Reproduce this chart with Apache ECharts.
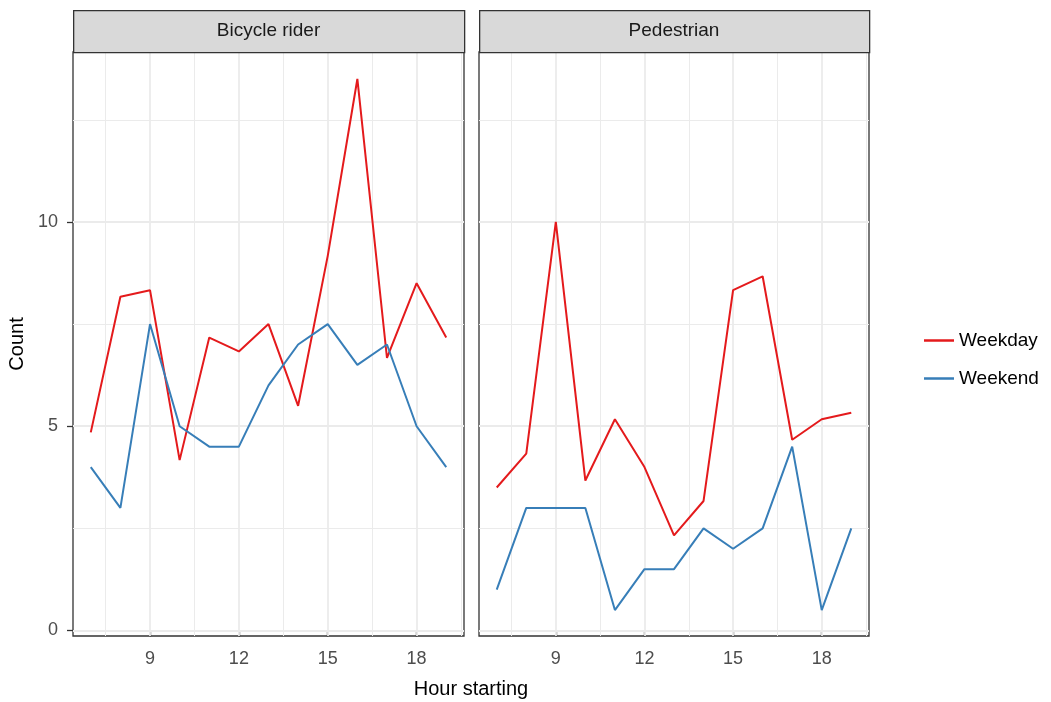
<!DOCTYPE html>
<html>
<head>
<meta charset="utf-8">
<script src="https://cdn.jsdelivr.net/npm/echarts@6/dist/echarts.min.js"></script>
<style>
html,body{margin:0;padding:0;background:#fff;}
#c{width:1051px;height:702px;}
</style>
</head>
<body>
<div id="c"></div>
<script>
// ---- data ----
const hours = [7, 8, 9, 10, 11, 12, 13, 14, 15, 16, 17, 18, 19];
const panels = ['Bicycle rider', 'Pedestrian'];
const bikeWeekday = [4.85, 8.17, 8.33, 4.17, 7.17, 6.83, 7.5, 5.5, 9.17, 13.5, 6.67, 8.5, 7.17];
const bikeWeekend = [4.0, 3.0, 7.5, 5.0, 4.5, 4.5, 6.0, 7.0, 7.5, 6.5, 7.0, 5.0, 4.0];
const pedWeekday = [3.5, 4.33, 10.0, 3.67, 5.17, 4.0, 2.33, 3.17, 8.33, 8.67, 4.67, 5.17, 5.33];
const pedWeekend = [1.0, 3.0, 3.0, 3.0, 0.5, 1.5, 1.5, 2.5, 2.0, 2.5, 4.5, 0.5, 2.5];
const xTicks = [9, 12, 15, 18];
const xMinor = [7.5, 10.5, 13.5, 16.5, 19.5];
const yTicks = [0, 5, 10];
const yMinor = [2.5, 7.5, 12.5];
const seriesNames = ['Weekday', 'Weekend'];

// ---- style ----
const RED = '#E41A1C', BLUE = '#377EB8';
const FONT = 'Liberation Sans, Arial, sans-serif';
const grids = [
  {left: 73, top: 52, width: 391, height: 584},
  {left: 479, top: 52, width: 390, height: 584}
];
const panelData = [[bikeWeekday, bikeWeekend], [pedWeekday, pedWeekend]];

const xAxes = grids.map((g, i) => ({
  type: 'value', gridIndex: i, min: 6.4, max: 19.6,
  axisLine: {show: false},
  splitLine: {show: false},
  axisTick: {show: true, length: 6, customValues: xTicks, lineStyle: {color: '#333333', width: 1.3}},
  axisLabel: {show: true, margin: 14, customValues: xTicks, color: '#4D4D4D', fontSize: 18, fontFamily: FONT}
}));
const yAxes = grids.map((g, i) => ({
  type: 'value', gridIndex: i, min: -0.135, max: 14.16,
  axisLine: {show: false},
  splitLine: {show: false},
  axisTick: {show: i === 0, length: 6, customValues: yTicks, lineStyle: {color: '#333333', width: 1.3}},
  axisLabel: {show: i === 0, margin: 15, customValues: yTicks, color: '#4D4D4D', fontSize: 18, fontFamily: FONT}
}));

const series = [];
grids.forEach((g, i) => {
  const ml = [];
  xMinor.forEach(v => ml.push({xAxis: v, lineStyle: {color: '#EBEBEB', width: 1, type: 'solid'}}));
  yMinor.forEach(v => ml.push({yAxis: v, lineStyle: {color: '#EBEBEB', width: 1, type: 'solid'}}));
  xTicks.forEach(v => ml.push({xAxis: v, lineStyle: {color: '#EBEBEB', width: 1.8, type: 'solid'}}));
  yTicks.forEach(v => ml.push({yAxis: v, lineStyle: {color: '#EBEBEB', width: 1.8, type: 'solid'}}));
  series.push({
    name: 'grid' + i, type: 'line', xAxisIndex: i, yAxisIndex: i, z: 1,
    data: hours.map((h, k) => [h, panelData[i][0][k]]),
    lineStyle: {opacity: 0}, showSymbol: false, silent: true, animation: false,
    markLine: {z: 1, silent: true, symbol: 'none', animation: false, label: {show: false}, data: ml}
  });
  seriesNames.forEach((nm, s) => {
    series.push({
      name: nm, type: 'line', xAxisIndex: i, yAxisIndex: i, z: 3,
      data: hours.map((h, k) => [h, panelData[i][s][k]]),
      showSymbol: false, animation: false,
      lineStyle: {color: s === 0 ? RED : BLUE, width: 2},
      itemStyle: {color: s === 0 ? RED : BLUE}
    });
  });
});

const graphic = [];
grids.forEach((g, i) => {
  graphic.push({
    type: 'rect', left: g.left, top: 10, z: 10,
    shape: {width: g.width, height: 42},
    style: {fill: '#D9D9D9', stroke: '#333333', lineWidth: 1.3}
  });
  graphic.push({
    type: 'text', z: 11,
    x: g.left + g.width / 2, y: 31,
    style: {text: panels[i], fill: '#1A1A1A', font: '19px ' + FONT, align: 'center', verticalAlign: 'middle'}
  });
});
graphic.push({
  type: 'text', z: 11, x: 471, y: 689,
  style: {text: 'Hour starting', fill: '#000000', font: '20px ' + FONT, align: 'center', verticalAlign: 'middle'}
});
graphic.push({
  type: 'text', z: 11, x: 17, y: 344, rotation: Math.PI / 2,
  style: {text: 'Count', fill: '#000000', font: '20px ' + FONT, align: 'center', verticalAlign: 'middle'}
});

const chart = echarts.init(document.getElementById('c'));
chart.setOption({
  animation: false,
  backgroundColor: '#ffffff',
  grid: grids.map(g => Object.assign({show: true, borderColor: '#333333', borderWidth: 1.3, backgroundColor: 'transparent'}, g)),
  xAxis: xAxes,
  yAxis: yAxes,
  legend: {
    data: seriesNames, orient: 'vertical', left: 919, top: 326,
    icon: 'rect', itemWidth: 30, itemHeight: 2.5, itemGap: 19,
    textStyle: {fontSize: 19, fontFamily: FONT, color: '#000000', lineHeight: 19}
  },
  series: series,
  graphic: graphic
});
</script>
</body>
</html>
